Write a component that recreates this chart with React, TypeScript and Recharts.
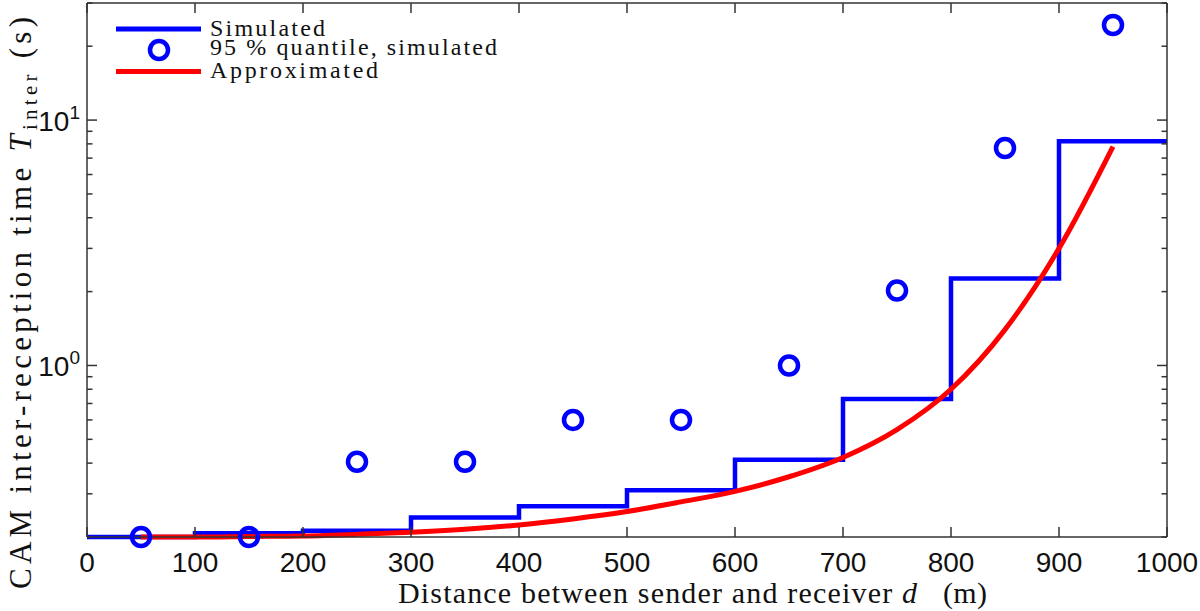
import React from "react";
import { ComposedChart, Label, Line, Scatter, XAxis, YAxis } from "recharts";

// values (log y axis)
const stepDistances = [0, 100, 200, 300, 400, 500, 600, 700, 800, 900, 1000];
const simulatedTimes = [0.2, 0.207, 0.212, 0.24, 0.267, 0.31, 0.413, 0.73, 2.26, 8.2, 8.2];

const quantileDistances = [50, 150, 250, 350, 450, 550, 650, 750, 850, 950];
const quantileTimes = [0.2, 0.2, 0.405, 0.405, 0.6, 0.6, 1.0, 2.02, 7.7, 24.4];

const approxDistances = [50, 100, 150, 200, 250, 300, 350, 400, 450, 500, 550, 600, 650, 700, 750, 800, 850, 900, 950];
const approxTimes = [0.2, 0.2, 0.201, 0.202, 0.205, 0.209, 0.215, 0.224, 0.237, 0.254, 0.278, 0.307, 0.352, 0.422, 0.548, 0.8, 1.4, 3.0, 7.8];

const xTicks = [0, 100, 200, 300, 400, 500, 600, 700, 800, 900, 1000];
const yTicks = [0.2, 0.3, 0.4, 0.5, 0.6, 0.7, 0.8, 0.9, 1, 2, 3, 4, 5, 6, 7, 8, 9, 10, 20, 30];
const yMajor = [1, 10];

const BLUE = "#0000ff";
const RED = "#ff0000";
const AXIS = "#333333";
const SERIF = "'Liberation Serif', 'Times New Roman', serif";
const SANS = "'Liberation Sans', Arial, sans-serif";

const simulatedData = stepDistances.map((d, i) => ({ d, t: simulatedTimes[i] }));
const quantileData = quantileDistances.map((d, i) => ({ d, t: quantileTimes[i] }));
const approxData = approxDistances.map((d, i) => ({ d, t: approxTimes[i] }));

const axisLine = { stroke: AXIS, strokeWidth: 1.5 };

// ticks point inward, MATLAB style; with tickSize/tickMargin 0 x,y sit on the axis line
function BottomTick(props: any) {
  const { x, y, payload } = props;
  return (
    <g>
      <line x1={x} x2={x} y1={y} y2={y - 10} stroke={AXIS} strokeWidth={1.5} />
      <text x={x} y={y + 35} textAnchor="middle" fontFamily={SANS} fontSize={28} fill="#111">
        {payload.value}
      </text>
    </g>
  );
}

function TopTick(props: any) {
  const { x, y } = props;
  return <line x1={x} x2={x} y1={y} y2={y + 10} stroke={AXIS} strokeWidth={1.5} />;
}

function LeftTick(props: any) {
  const { x, y, payload } = props;
  const major = yMajor.includes(payload.value);
  return (
    <g>
      <line x1={x} x2={x + (major ? 10 : 5.5)} y1={y} y2={y} stroke={AXIS} strokeWidth={1.5} />
      {major && (
        <text x={x - 7} y={y + 11} textAnchor="end" fontFamily={SANS} fontSize={28} fill="#111">
          10
          <tspan dy={-12} fontSize={19}>
            {Math.round(Math.log10(payload.value))}
          </tspan>
        </text>
      )}
    </g>
  );
}

function RightTick(props: any) {
  const { x, y, payload } = props;
  const major = yMajor.includes(payload.value);
  return <line x1={x} x2={x - (major ? 10 : 5.5)} y1={y} y2={y} stroke={AXIS} strokeWidth={1.5} />;
}

function XTitle(props: any) {
  const { x, y } = props.viewBox;
  return (
    <g fontFamily={SERIF} fontSize={30} fill="#111">
      <text x={x + 311} y={y + 66} textLength={519} lengthAdjust="spacing">
        Distance between sender and receiver <tspan fontStyle="italic">d</tspan>
      </text>
      <text x={x + 856} y={y + 66} textLength={44} lengthAdjust="spacing">
        (m)
      </text>
    </g>
  );
}

function YTitle(props: any) {
  const { y, height } = props.viewBox;
  return (
    <text
      transform={`translate(31, ${y + height + 52}) rotate(-90)`}
      fontFamily={SERIF}
      fontSize={31}
      fill="#111"
      textLength={572}
      lengthAdjust="spacing"
    >
      CAM inter-reception time <tspan fontStyle="italic">T</tspan>
      <tspan fontSize={21} dy={6}>
        inter
      </tspan>
      <tspan dy={-6}> (s)</tspan>
    </text>
  );
}

function Ring(props: any) {
  const { cx, cy } = props;
  return <circle cx={cx} cy={cy} r={9} fill="none" stroke={BLUE} strokeWidth={4.5} />;
}

function LegendBox() {
  return (
    <svg
      width={520}
      height={90}
      style={{ position: "absolute", left: 0, top: 0, pointerEvents: "none" }}
      fontFamily={SERIF}
      fontSize={24}
      fill="#111"
    >
      <line x1={116} x2={201} y1={29} y2={29} stroke={BLUE} strokeWidth={5} />
      <circle cx={159} cy={50} r={9} fill="none" stroke={BLUE} strokeWidth={4.5} />
      <line x1={116} x2={201} y1={71.5} y2={71.5} stroke={RED} strokeWidth={5} />
      <text x={210} y={36} textLength={115} lengthAdjust="spacing">
        Simulated
      </text>
      <text x={210} y={55} textLength={287} lengthAdjust="spacing">
        95 % quantile, simulated
      </text>
      <text x={210} y={78} textLength={168} lengthAdjust="spacing">
        Approximated
      </text>
    </svg>
  );
}

export default function App() {
  return (
    <div style={{ position: "absolute", left: 0, top: 0, width: 1200, height: 611, background: "#fff" }}>
      <ComposedChart width={1200} height={611} margin={{ top: 2, right: 32, bottom: 0, left: 0 }}>
        <XAxis
          dataKey="d"
          type="number"
          domain={[0, 1000]}
          ticks={xTicks}
          interval={0}
          height={74}
          tickSize={0}
          tickMargin={0}
          tickLine={false}
          tick={<BottomTick />}
          axisLine={axisLine}
        >
          <Label content={XTitle} />
        </XAxis>
        <XAxis
          xAxisId="top"
          orientation="top"
          dataKey="d"
          type="number"
          domain={[0, 1000]}
          ticks={xTicks}
          interval={0}
          height={1}
          tickSize={0}
          tickMargin={0}
          tickLine={false}
          tick={<TopTick />}
          axisLine={axisLine}
        />
        <YAxis
          dataKey="t"
          type="number"
          scale="log"
          domain={[0.2, 30]}
          ticks={yTicks}
          interval={0}
          width={87}
          tickSize={0}
          tickMargin={0}
          tickLine={false}
          tick={<LeftTick />}
          axisLine={axisLine}
        >
          <Label content={YTitle} />
        </YAxis>
        <YAxis
          yAxisId="right"
          orientation="right"
          dataKey="t"
          type="number"
          scale="log"
          domain={[0.2, 30]}
          ticks={yTicks}
          interval={0}
          width={1}
          tickSize={0}
          tickMargin={0}
          tickLine={false}
          tick={<RightTick />}
          axisLine={axisLine}
        />
        <Line
          data={simulatedData}
          dataKey="t"
          type="stepAfter"
          stroke={BLUE}
          strokeWidth={4.5}
          dot={false}
          activeDot={false}
          isAnimationActive={false}
        />
        <Scatter data={quantileData} dataKey="t" shape={Ring} isAnimationActive={false} />
        <Line
          xAxisId="top"
          yAxisId="right"
          data={approxData}
          dataKey="t"
          type="monotone"
          stroke={RED}
          strokeWidth={5}
          dot={false}
          activeDot={false}
          isAnimationActive={false}
        />
      </ComposedChart>
      <LegendBox />
    </div>
  );
}
